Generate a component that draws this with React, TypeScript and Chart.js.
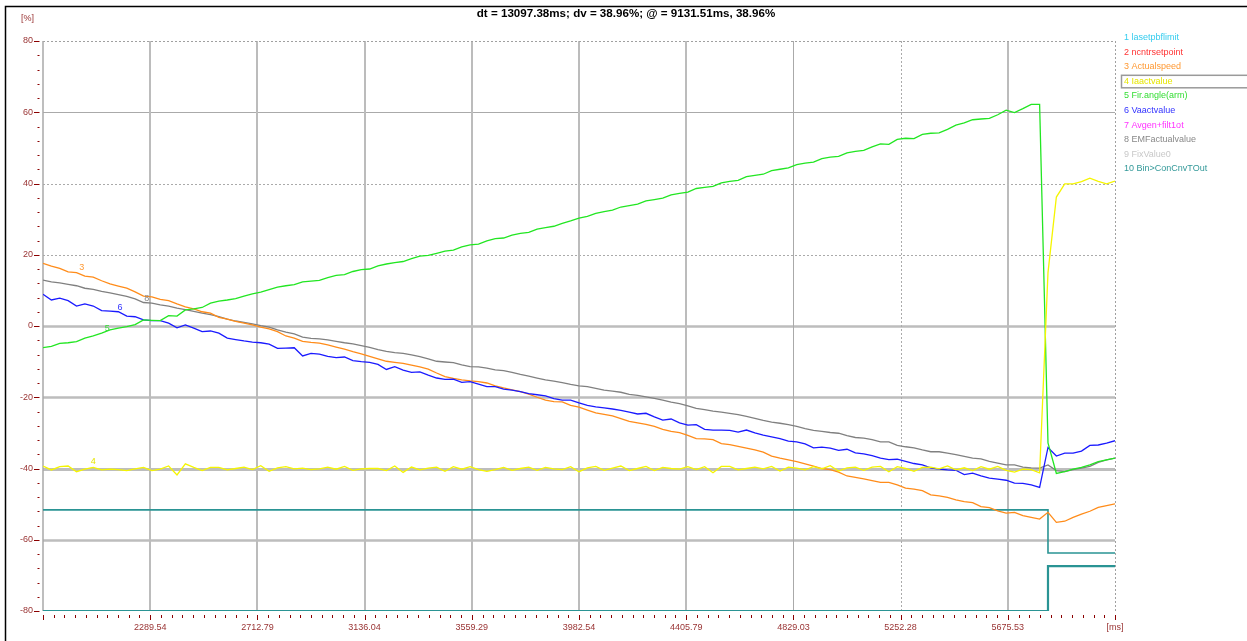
import React, { useEffect, useRef } from 'react';
import { Chart, registerables } from 'chart.js';

Chart.register(...registerables);

// ---------- text ----------
const TITLE = 'dt = 13097.38ms; dv = 38.96%; @ = 9131.51ms, 38.96%';
const X_UNIT = '[ms]';
const Y_UNIT = '[%]';

// ---------- axes ----------
const X_MIN = 1866.29;
const X_MAX = 6098.78;
const X_TICK_LABELS = ['2289.54', '2712.79', '3136.04', '3559.29', '3982.54', '4405.79', '4829.03', '5252.28', '5675.53'];
const X_MINOR_PER_MAJOR = 10;
const Y_MIN = -80;
const Y_MAX = 80;
const Y_MAJOR = 20;
const Y_MINOR = 4;

// ---------- legend ----------
const LEGEND_NAMES = ['lasetpbflimit', 'ncntrsetpoint', 'Actualspeed', 'Iaactvalue', 'Fir.angle(arm)', 'Vaactvalue', 'Avgen+filt1ot', 'EMFactualvalue', 'FixValue0', 'Bin>ConCnvTOut'];
const LEGEND_COLORS = ['#33ccee', '#ff3333', '#ff9933', '#e6e600', '#33dd33', '#3333ff', '#ff33ff', '#888888', '#c8c8c8', '#339999'];
const LEGEND_SELECTED = 3;

// ---------- samples ----------
const SAMPLE_T0 = 1866.29;
const SAMPLE_DT = 33.066;

// 3 Actualspeed
const ACTUAL_SPEED = [
  17.6, 16.8, 16.2, 15.2, 15.0, 14.0, 13.7, 12.7, 11.8, 11.2,
  10.6, 9.6, 8.4, 8.2, 7.5, 7.1, 6.2, 5.4, 4.8, 4.0,
  3.6, 2.4, 1.9, 1.3, 0.8, 0.3, -0.3, -0.8, -1.6, -2.8,
  -3.4, -4.3, -4.6, -4.8, -5.3, -5.9, -6.5, -7.2, -7.8, -8.5,
  -9.2, -9.9, -10.2, -10.5, -11.0, -11.5, -12.1, -13.2, -14.2, -14.7,
  -15.1, -15.4, -15.6, -16.0, -16.8, -17.4, -17.9, -18.4, -19.1, -20.0,
  -20.8, -21.2, -21.3, -22.3, -22.8, -23.6, -24.4, -24.8, -25.2, -26.0,
  -26.8, -27.2, -27.6, -28.2, -29.0, -29.6, -29.9, -30.7, -31.6, -31.7,
  -31.9, -33.0, -33.3, -33.8, -34.3, -34.8, -35.4, -36.5, -37.1, -37.6,
  -38.1, -38.7, -39.3, -40.0, -40.3, -41.0, -42.1, -42.5, -42.9, -43.4,
  -43.9, -43.9, -44.6, -45.5, -45.8, -46.2, -47.4, -47.7, -48.1, -48.8,
  -49.3, -49.6, -50.7, -51.0, -51.9, -52.5, -52.3, -53.2, -53.7, -54.2,
  -52.3, -55.1, -54.8, -53.7, -52.8, -52.0, -50.9, -50.4, -49.9,
];

// 4 Iaactvalue
const IA_ACT_VALUE = [
  -39.3, -40.4, -39.5, -39.3, -40.9, -40.2, -39.7, -40.4, -40.2, -40.3,
  -40.6, -40.1, -39.7, -40.6, -40.2, -39.3, -41.8, -38.7, -39.7, -40.6,
  -39.7, -39.7, -40.4, -40.0, -39.6, -40.3, -39.2, -40.8, -39.8, -39.5,
  -40.1, -39.9, -40.3, -40.1, -39.6, -40.2, -39.4, -40.5, -40.1, -40.0,
  -40.0, -40.6, -39.3, -41.1, -39.6, -40.4, -39.9, -39.6, -40.8, -39.5,
  -40.2, -39.5, -40.3, -40.8, -40.3, -39.7, -40.5, -40.0, -39.6, -40.5,
  -39.7, -40.1, -40.3, -39.5, -40.9, -39.8, -39.4, -40.5, -39.9, -39.3,
  -40.6, -40.0, -39.4, -40.6, -39.7, -40.0, -40.2, -39.5, -40.3, -39.5,
  -41.2, -39.4, -39.4, -40.4, -40.0, -39.6, -40.1, -39.4, -40.7, -39.6,
  -39.9, -40.4, -39.5, -40.1, -39.2, -40.7, -39.8, -39.6, -40.5, -39.6,
  -39.4, -40.9, -39.5, -40.0, -40.8, -39.7, -39.6, -40.1, -39.3, -40.4,
  -39.8, -40.6, -39.5, -40.2, -39.4, -40.5, -41.0, -40.2, -40.3, -41.2,
  15.0, 36.2, 39.9, 39.9, 40.5, 41.5, 40.6, 39.9, 40.7,
];

// 5 Fir.angle(arm)
const FIR_ANGLE = [
  -6.1, -5.7, -4.9, -4.7, -4.4, -3.4, -2.8, -2.0, -1.1, -0.6,
  -0.2, 0.4, 1.7, 1.6, 1.5, 2.9, 2.8, 4.5, 4.8, 5.2,
  6.4, 7.0, 7.3, 7.7, 8.4, 9.0, 9.5, 10.2, 10.9, 11.3,
  11.6, 12.4, 12.6, 12.8, 13.6, 14.2, 14.4, 15.3, 15.8, 16.0,
  16.9, 17.4, 17.8, 18.1, 18.9, 19.6, 19.8, 20.4, 21.0, 21.3,
  22.2, 22.8, 23.0, 23.9, 24.5, 24.7, 25.5, 26.0, 26.3, 27.2,
  27.6, 28.0, 28.8, 29.5, 30.3, 30.8, 31.6, 32.1, 32.5, 33.4,
  33.8, 34.2, 35.1, 35.5, 35.9, 36.8, 37.2, 37.6, 38.6, 38.9,
  39.2, 40.2, 40.6, 40.9, 41.9, 42.3, 42.6, 43.6, 44.0, 44.4,
  45.3, 45.7, 46.0, 47.0, 47.4, 47.6, 48.6, 49.0, 49.3, 50.3,
  51.1, 51.0, 52.4, 52.7, 52.6, 53.8, 54.1, 54.2, 55.2, 56.4,
  57.0, 57.9, 58.1, 58.3, 59.3, 60.6, 59.9, 61.0, 62.2, 62.2,
  -32.8, -41.4, -40.9, -40.2, -39.7, -39.0, -38.1, -37.6, -37.1,
];

// 6 Vaactvalue
const VA_ACT_VALUE = [
  8.9, 7.3, 7.8, 7.1, 5.6, 6.2, 5.6, 4.3, 4.2, 4.0,
  2.8, 2.6, 1.7, 1.5, 1.5, 0.8, -0.5, 0.3, -0.6, -1.6,
  -1.4, -2.0, -3.4, -3.8, -4.2, -4.5, -4.7, -5.1, -6.3, -6.2,
  -6.1, -8.4, -7.7, -7.9, -8.5, -8.9, -8.7, -9.7, -10.0, -10.2,
  -10.8, -12.2, -11.4, -12.4, -13.0, -12.9, -13.8, -14.6, -15.0, -14.9,
  -15.8, -15.6, -16.3, -17.0, -17.0, -17.7, -18.0, -18.4, -19.0, -19.3,
  -19.6, -20.4, -20.8, -20.8, -21.6, -22.3, -22.7, -23.0, -23.3, -23.7,
  -24.2, -24.7, -24.5, -25.5, -26.4, -26.1, -27.2, -27.8, -27.7, -29.0,
  -29.2, -29.2, -29.3, -29.8, -29.2, -30.0, -30.6, -31.1, -31.6, -32.3,
  -32.5, -33.1, -34.2, -34.0, -34.3, -34.9, -34.6, -35.6, -35.9, -36.4,
  -37.1, -37.5, -37.4, -38.0, -38.6, -39.0, -39.8, -40.2, -40.4, -40.5,
  -41.7, -41.3, -42.1, -42.7, -43.0, -43.3, -44.1, -44.2, -44.6, -45.3,
  -34.1, -36.5, -35.7, -35.7, -35.1, -33.5, -33.4, -32.9, -32.2,
];

// 8 EMFactualvalue
const EMF_ACT_VALUE = [
  12.9, 12.4, 12.1, 11.7, 11.3, 10.6, 10.3, 9.7, 9.3, 8.8,
  8.3, 7.6, 6.6, 6.4, 5.9, 5.6, 5.0, 4.6, 4.1, 3.6,
  3.2, 2.6, 1.9, 1.4, 1.0, 0.6, 0.1, -0.3, -1.1, -1.7,
  -2.2, -3.1, -3.5, -3.6, -3.9, -4.3, -4.7, -5.0, -5.5, -6.0,
  -6.6, -7.1, -7.5, -7.7, -8.1, -8.6, -9.2, -9.9, -10.1, -10.3,
  -10.9, -11.4, -11.5, -11.8, -12.3, -12.5, -13.0, -13.6, -14.1, -14.6,
  -15.1, -15.5, -15.9, -16.4, -16.8, -17.0, -17.5, -18.0, -18.3, -18.6,
  -19.2, -19.5, -19.9, -20.3, -20.8, -21.4, -21.8, -22.4, -23.1, -23.5,
  -23.9, -24.2, -24.5, -24.9, -25.4, -25.9, -26.5, -27.0, -27.3, -27.7,
  -28.2, -28.8, -29.3, -29.6, -29.9, -30.1, -30.8, -31.3, -31.5, -31.9,
  -32.5, -32.5, -33.5, -33.9, -34.2, -34.8, -35.3, -35.3, -35.7, -36.1,
  -36.6, -37.1, -37.3, -38.0, -38.5, -39.0, -39.0, -39.6, -39.8, -39.9,
  -39.0, -40.6, -40.9, -40.3, -39.9, -39.4, -38.3, -37.6, -37.1,
];

// step signals (change points)
const STEP_T = [1866.29, 5834.2, 6098.78];
const STEP_UPPER = [-51.6, -63.7, -63.7];
const STEP_LOWER = [-80, -67.4, -67.4];

// small numbered tags next to curves: [text, time, value]
const CURVE_TAGS: [string, number, number][] = [
  ['3', 2019.1, 16.4],
  ['6', 2170.3, 5.1],
  ['8', 2275.7, 7.6],
  ['5', 2120.2, -0.8],
  ['4', 2064.9, -38.1],
];

const TIMES = ACTUAL_SPEED.map((_, i) => SAMPLE_T0 + i * SAMPLE_DT);
const toPts = (vals: number[]) => vals.map((v, i) => ({ x: TIMES[i], y: v }));
const toStepPts = (vals: number[]) => vals.map((v, i) => ({ x: STEP_T[i], y: v }));

const FONT = '"Liberation Sans", Arial, sans-serif';
const AXIS_TEXT = '#993333';
const AXIS_TICK = '#8b0000';

const decorPlugin = {
  id: 'decor',
  beforeDatasetsDraw(chart: any) {
    const { ctx, chartArea: a, scales } = chart;
    const xs = scales.x;
    const ys = scales.y;
    ctx.save();
    // horizontal grid
    for (let v = Y_MIN + Y_MAJOR; v < Y_MAX; v += Y_MAJOR) {
      const py = Math.round(ys.getPixelForValue(v)) + 0.5;
      let w = 2.5;
      let dash: number[] = [];
      if (v === 60) w = 1;
      if (v === 40 || v === 20) { w = 1; dash = [2, 2]; }
      if (v === -40) w = 3;
      ctx.strokeStyle = v > 0 ? '#aaaaaa' : '#bdbdbd';
      ctx.lineWidth = w;
      ctx.setLineDash(dash);
      ctx.beginPath();
      ctx.moveTo(a.left, py);
      ctx.lineTo(a.right, py);
      ctx.stroke();
    }
    // vertical grid at labelled ticks
    X_TICK_LABELS.forEach((lab) => {
      const px = Math.round(xs.getPixelForValue(parseFloat(lab)));
      let w = 2;
      let dash: number[] = [];
      if (lab === '4829.03') w = 1;
      if (lab === '5252.28') { w = 1; dash = [2, 2]; }
      ctx.strokeStyle = w > 1 ? '#bcbcbc' : '#aaaaaa';
      ctx.lineWidth = w;
      ctx.setLineDash(dash);
      ctx.beginPath();
      ctx.moveTo(px + (w > 1 ? 0 : 0.5), a.top);
      ctx.lineTo(px + (w > 1 ? 0 : 0.5), a.bottom);
      ctx.stroke();
    });
    // top and right dotted border
    ctx.strokeStyle = '#a0a0a0';
    ctx.lineWidth = 1;
    ctx.setLineDash([2, 2]);
    ctx.beginPath();
    ctx.moveTo(a.left, a.top + 0.5);
    ctx.lineTo(a.right, a.top + 0.5);
    ctx.moveTo(a.right + 0.5, a.top);
    ctx.lineTo(a.right + 0.5, a.bottom);
    ctx.stroke();
    // left axis line
    ctx.setLineDash([]);
    ctx.strokeStyle = '#a8a8a8';
    ctx.lineWidth = 1.5;
    ctx.beginPath();
    ctx.moveTo(a.left, a.top);
    ctx.lineTo(a.left, a.bottom);
    ctx.stroke();
    // y tick marks
    ctx.strokeStyle = AXIS_TICK;
    ctx.lineWidth = 1;
    for (let v = Y_MIN; v <= Y_MAX; v += Y_MINOR) {
      const py = Math.round(ys.getPixelForValue(v)) + 0.5;
      const major = v % Y_MAJOR === 0;
      ctx.beginPath();
      ctx.moveTo(major ? a.left - 9 : a.left - 5.5, py);
      ctx.lineTo(a.left - 3.5, py);
      ctx.stroke();
    }
    // x tick marks
    const majorStep = (X_MAX - X_MIN) / (X_TICK_LABELS.length + 1);
    const minorStep = majorStep / X_MINOR_PER_MAJOR;
    const nMinor = (X_TICK_LABELS.length + 1) * X_MINOR_PER_MAJOR;
    for (let k = 0; k <= nMinor; k++) {
      const px = Math.round(xs.getPixelForValue(X_MIN + k * minorStep)) + 0.5;
      const major = k % X_MINOR_PER_MAJOR === 0;
      ctx.beginPath();
      ctx.moveTo(px, a.bottom + 4);
      ctx.lineTo(px, a.bottom + (major ? 9 : 7));
      ctx.stroke();
    }
    ctx.restore();
  },
  afterDatasetsDraw(chart: any) {
    const { ctx, scales } = chart;
    ctx.save();
    ctx.font = `9px ${FONT}`;
    ctx.textAlign = 'center';
    ctx.textBaseline = 'middle';
    const colorByNum: Record<string, string> = { '3': '#ff9933', '4': '#e6e600', '5': '#33dd33', '6': '#3333ff', '8': '#888888' };
    CURVE_TAGS.forEach(([t, x, y]) => {
      ctx.fillStyle = colorByNum[t];
      ctx.fillText(t, scales.x.getPixelForValue(x), scales.y.getPixelForValue(y));
    });
    ctx.restore();
  },
  afterDraw(chart: any) {
    const { ctx, chartArea: a } = chart;
    ctx.save();
    // frame
    ctx.strokeStyle = '#000';
    ctx.lineWidth = 1.5;
    ctx.beginPath();
    ctx.moveTo(5.5, chart.height);
    ctx.lineTo(5.5, 6.5);
    ctx.lineTo(chart.width, 6.5);
    ctx.stroke();
    // title
    ctx.fillStyle = '#000';
    ctx.font = `bold 11.6px ${FONT}`;
    ctx.textAlign = 'center';
    ctx.textBaseline = 'middle';
    ctx.fillText(TITLE, 626, 14);
    // y unit
    ctx.font = `9px ${FONT}`;
    ctx.fillStyle = AXIS_TEXT;
    ctx.fillText(Y_UNIT, 27.5, 18.5);
    // legend
    ctx.textAlign = 'left';
    ctx.font = `9px ${FONT}`;
    LEGEND_NAMES.forEach((name, i) => {
      const yy = 37.5 + i * 14.6;
      ctx.fillStyle = LEGEND_COLORS[i];
      ctx.fillText(`${i + 1} ${name}`, 1124, yy);
      if (i === LEGEND_SELECTED) {
        ctx.strokeStyle = '#9a9a9a';
        ctx.lineWidth = 1.5;
        ctx.strokeRect(a.right + 6.5, yy - 6, 200, 12.5);
      }
    });
    ctx.restore();
  },
};

export default function App() {
  const ref = useRef<HTMLCanvasElement | null>(null);

  useEffect(() => {
    document.body.style.margin = '0';
    if (!ref.current) return;
    const line = (label: string, data: any[], color: string, extra: any = {}) => ({
      label,
      data,
      borderColor: color,
      backgroundColor: color,
      borderWidth: 1.3,
      pointRadius: 0,
      tension: 0,
      fill: false,
      ...extra,
    });
    const chart = new Chart(ref.current, {
      type: 'line',
      data: {
        datasets: [
          line('4 ' + LEGEND_NAMES[3], toPts(IA_ACT_VALUE), '#f5f500', { order: 1 }),
          line('5 ' + LEGEND_NAMES[4], toPts(FIR_ANGLE), '#22e622', { order: 2 }),
          line('6 ' + LEGEND_NAMES[5], toPts(VA_ACT_VALUE), '#1a1aff', { order: 3 }),
          line('3 ' + LEGEND_NAMES[2], toPts(ACTUAL_SPEED), '#ff8c1a', { order: 4 }),
          line('8 ' + LEGEND_NAMES[7], toPts(EMF_ACT_VALUE), '#808080', { order: 5 }),
          line('10 ' + LEGEND_NAMES[9], toStepPts(STEP_UPPER), '#2a9494', { order: 6, stepped: 'before', borderWidth: 1.6 }),
          line('1 ' + LEGEND_NAMES[0], toStepPts(STEP_LOWER), '#2a9494', { order: 7, stepped: 'before', borderWidth: 2.2 }),
        ],
      },
      options: {
        responsive: false,
        animation: false,
        parsing: true,
        layout: { padding: { left: 0, right: 132, top: 41, bottom: 0 } },
        plugins: { legend: { display: false }, tooltip: { enabled: false }, title: { display: false } },
        scales: {
          x: {
            type: 'linear',
            min: X_MIN,
            max: X_MAX,
            grid: { display: false },
            border: { display: false },
            afterBuildTicks: (scale: any) => {
              scale.ticks = [X_MIN, ...X_TICK_LABELS.map((s) => parseFloat(s)), X_MAX].map((v) => ({ value: v }));
            },
            afterFit: (scale: any) => { scale.height = 30; },
            ticks: {
              autoSkip: false,
              maxRotation: 0,
              minRotation: 0,
              padding: 3,
              color: AXIS_TEXT,
              font: { family: FONT, size: 9 },
              callback: (_v: any, i: number) => (i === 0 ? '' : i === X_TICK_LABELS.length + 1 ? X_UNIT : X_TICK_LABELS[i - 1]),
            },
          },
          y: {
            type: 'linear',
            min: Y_MIN,
            max: Y_MAX,
            grid: { display: false, drawTicks: false },
            border: { display: false },
            afterFit: (scale: any) => { scale.width = 43; },
            ticks: {
              stepSize: Y_MAJOR,
              padding: 10,
              color: AXIS_TEXT,
              font: { family: FONT, size: 9 },
              callback: (v: any) => String(v),
            },
          },
        },
      },
      plugins: [decorPlugin],
    } as any);
    return () => chart.destroy();
  }, []);

  return <canvas ref={ref} width={1247} height={641} style={{ display: 'block', width: 1247, height: 641 }} />;
}
